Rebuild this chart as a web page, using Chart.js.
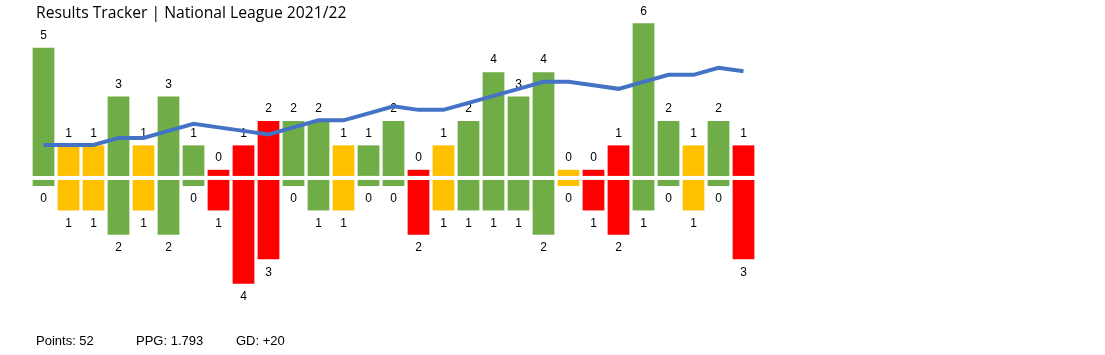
<!DOCTYPE html>
<html>
<head>
<meta charset="utf-8">
<script src="https://cdn.jsdelivr.net/npm/chart.js@4.4.1/dist/chart.umd.min.js"></script>
<style>
  body { margin: 0; background: #fff; }
  #wrap { position: relative; width: 1105px; height: 355px; }
  #title { position: absolute; left: 36px; top: 1px; font-family: "Open Sans", sans-serif; font-size: 15.7px; color: #000; }
  .foot { position: absolute; top: 333px; font-family: "Liberation Sans", Arial, sans-serif; font-size: 13px; color: #000; }
</style>
</head>
<body>
<div id="wrap">
  <canvas id="myChart" width="1105" height="355"></canvas>
  <div id="title">Results Tracker | National League 2021/22</div>
  <div class="foot" style="left:36px">Points: 52</div>
  <div class="foot" style="left:136px">PPG: 1.793</div>
  <div class="foot" style="left:236px">GD: +20</div>
</div>
<script>
// match data, one entry per game
var games = [];
for (var i = 1; i <= 29; i++) games.push('G' + i);
var goalsFor     = [5,1,1,3,1,3,1,0,1,2,2,2,1,1,2,0,1,2,4,3,4,0,0,1,6,2,1,2,1];
var goalsAgainst = [0,1,1,2,1,2,0,1,4,3,0,1,1,0,0,2,1,1,1,1,2,0,1,2,1,0,1,0,3];
// points above one-per-game pace
var formLine     = [2,2,2,4,4,6,8,7,6,5,7,9,9,11,13,12,12,14,16,18,20,20,19,18,20,22,22,24,23];

var GREEN = '#70AD47', AMBER = '#FFC000', RED = '#FF0000';
var gap = 0.082, stub = 0.25;

function resultColor(i) {
  if (goalsFor[i] > goalsAgainst[i]) return GREEN;
  if (goalsFor[i] == goalsAgainst[i]) return AMBER;
  return RED;
}
var colors = games.map(function(g, i) { return resultColor(i); });

var forBars = goalsFor.map(function(v) { return [gap, v + stub + gap]; });
var againstBars = goalsAgainst.map(function(v) { return [-gap, -(v + stub + gap)]; });

// numbers above / below the bars
var labelPlugin = {
  id: 'barLabels',
  afterDatasetDraw: function(chart, args) {
    if (args.meta.type !== 'bar') return;
    var ctx = chart.ctx;
    var vals = args.index === 1 ? goalsFor : goalsAgainst;
    ctx.save();
    ctx.font = '12px "Liberation Sans", Arial, sans-serif';
    ctx.fillStyle = '#000';
    ctx.textAlign = 'center';
    ctx.textBaseline = 'middle';
    args.meta.data.forEach(function(bar, i) {
      var y = args.index === 1 ? bar.y - 12 : bar.y + 13;
      ctx.fillText(vals[i], bar.x, y);
    });
    ctx.restore();
  }
};

var ctx = document.getElementById('myChart').getContext('2d');
var myChart = new Chart(ctx, {
  type: 'bar',
  data: {
    labels: games,
    datasets: [{
      type: 'line',
      data: formLine,
      yAxisID: 'y2',
      borderColor: '#4472C4',
      borderWidth: 4,
      pointRadius: 0,
      tension: 0,
      order: 0
    }, {
      data: forBars,
      backgroundColor: colors,
      order: 1
    }, {
      data: againstBars,
      backgroundColor: colors,
      order: 2
    }]
  },
  options: {
    responsive: false,
    animation: false,
    grouped: false,
    barPercentage: 0.87,
    categoryPercentage: 1,
    layout: { padding: { left: 31, right: 349, top: 7, bottom: 55 } },
    scales: {
      x: { display: false },
      y: { display: false, min: -5, max: 7 },
      y2: { display: false, min: -42.29, max: 41.37 }
    },
    plugins: {
      legend: { display: false },
      tooltip: { enabled: false }
    }
  },
  plugins: [labelPlugin]
});
</script>
</body>
</html>
